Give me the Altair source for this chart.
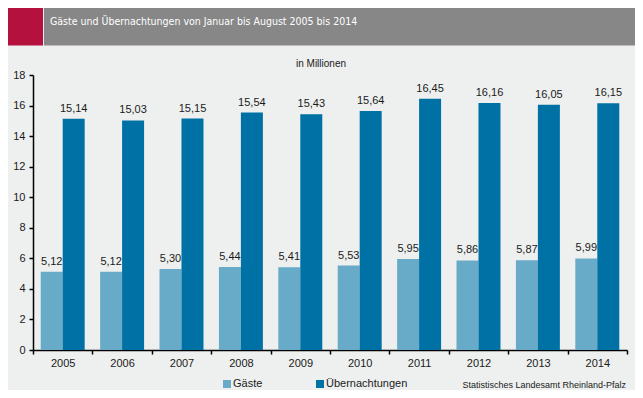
import altair as alt
import pandas as pd

years = ["2005", "2006", "2007", "2008", "2009", "2010", "2011", "2012", "2013", "2014"]
gaeste = [5.12, 5.12, 5.30, 5.44, 5.41, 5.53, 5.95, 5.86, 5.87, 5.99]
uebernachtungen = [15.14, 15.03, 15.15, 15.54, 15.43, 15.64, 16.45, 16.16, 16.05, 16.15]
series = ["Gäste", "Übernachtungen"]
colors = ["#67abc8", "#0071a4"]

rows = []
for y, g, u in zip(years, gaeste, uebernachtungen):
    rows.append({"Jahr": y, "Serie": series[0], "Wert": g, "Label": f"{g:.2f}".replace(".", ",")})
    rows.append({"Jahr": y, "Serie": series[1], "Wert": u, "Label": f"{u:.2f}".replace(".", ",")})
df = pd.DataFrame(rows)

FONT = "Liberation Sans"
NARROW = "DejaVu Sans Condensed, Liberation Sans"
W, H = 594, 275
LEG_Y = H + 34

x = alt.X("Jahr:N", sort=years,
          scale=alt.Scale(paddingInner=0, paddingOuter=0),
          axis=alt.Axis(title=None, labelAngle=0, tickBand="extent", tickSize=4,
                        domainColor="#000000", domainWidth=1.5, tickColor="#000000",
                        tickWidth=1.5, labelFontSize=11, labelColor="#1a1a1a",
                        labelFont=FONT, labelPadding=3, grid=False))
xo = alt.XOffset("Serie:N", sort=series,
                 scale=alt.Scale(paddingInner=0, paddingOuter=0.352))
y = alt.Y("Wert:Q",
          scale=alt.Scale(domain=[0, 18], nice=False),
          axis=alt.Axis(title=None, values=list(range(0, 19, 2)), tickSize=4,
                        domainColor="#000000", domainWidth=1.5, tickColor="#000000",
                        tickWidth=1.5, labelFontSize=11, labelColor="#1a1a1a",
                        labelFont=FONT, labelPadding=4, grid=False))
color = alt.Color("Serie:N", sort=series,
                  scale=alt.Scale(domain=series, range=colors), legend=None)

base = alt.Chart(df)
bars = base.mark_bar(size=22).encode(x=x, xOffset=xo, y=y, color=color)
labels = base.mark_text(baseline="bottom", dy=-5, fontSize=11, font=FONT,
                        color="#1a1a1a").encode(x=x, xOffset=xo, y=y, text="Label:N")

# header band
header_grey = alt.Chart().mark_rect(color="#878787").encode(
    x=alt.value(11), x2=alt.value(W + 8), y=alt.value(-67), y2=alt.value(-29.5))
header_red = alt.Chart().mark_rect(color="#b5113e").encode(
    x=alt.value(-25), x2=alt.value(10), y=alt.value(-67), y2=alt.value(-29.5))
title = alt.Chart().mark_text(text="Gäste und Übernachtungen von Januar bis August 2005 bis 2014",
                              align="left", baseline="middle", fontSize=10.5, font=NARROW,
                              color="#ffffff").encode(x=alt.value(17), y=alt.value(-53))
unit = alt.Chart().mark_text(text="in Millionen", align="center", baseline="middle",
                             fontSize=10, font=FONT, color="#1a1a1a").encode(
    x=alt.value(288), y=alt.value(-11))

# legend
leg_sq1 = alt.Chart().mark_square(size=64, color=colors[0], opacity=1).encode(
    x=alt.value(194), y=alt.value(LEG_Y))
leg_t1 = alt.Chart().mark_text(text=series[0], align="left", baseline="middle",
                               fontSize=11, font=FONT, color="#1a1a1a").encode(
    x=alt.value(200), y=alt.value(LEG_Y))
leg_sq2 = alt.Chart().mark_square(size=64, color=colors[1], opacity=1).encode(
    x=alt.value(287), y=alt.value(LEG_Y))
leg_t2 = alt.Chart().mark_text(text=series[1], align="left", baseline="middle",
                               fontSize=11, font=FONT, color="#1a1a1a").encode(
    x=alt.value(293), y=alt.value(LEG_Y))
source = alt.Chart().mark_text(text="Statistisches Landesamt Rheinland-Pfalz", align="right",
                               baseline="middle", fontSize=9, font=FONT,
                               color="#1a1a1a").encode(x=alt.value(W - 1), y=alt.value(LEG_Y + 1))

chart = alt.layer(
    header_grey, header_red, title, unit, bars, labels,
    leg_sq1, leg_t1, leg_sq2, leg_t2, source
).properties(
    width=W, height=H,
    autosize=alt.AutoSizeParams(type="none"),
    padding={"left": 25, "top": 67, "right": 8, "bottom": 40},
    background="#eef0ef",
).configure_view(stroke=None)

chart.save("out.html", embed_options={"renderer": "svg", "actions": False})
